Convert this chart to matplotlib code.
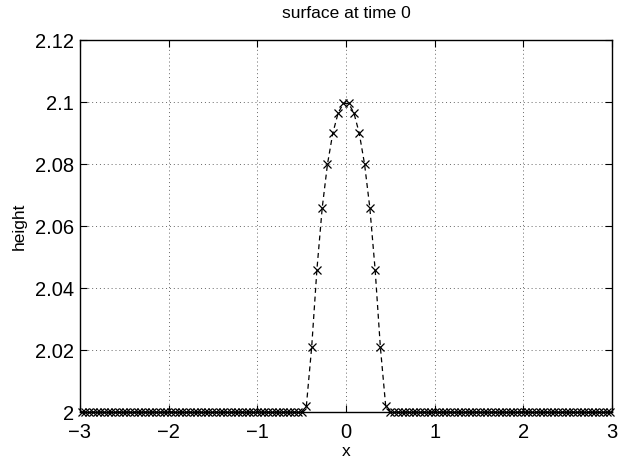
import numpy as np
import matplotlib
matplotlib.use("Agg")
import matplotlib.pyplot as plt
from matplotlib.ticker import FuncFormatter

# Positions: dense flat parts on both sides, coarser bump
flat_left_x = np.linspace(-2.98, -0.50, 60)
bump_x = [-0.447, -0.387, -0.328, -0.268, -0.209, -0.149, -0.089, -0.030,
          0.030, 0.089, 0.149, 0.209, 0.268, 0.328, 0.387, 0.447]
flat_right_x = np.linspace(0.50, 2.98, 60)

# Heights
flat_left_y = [2.0] * 60
bump_y = [2.002, 2.021, 2.046, 2.066, 2.080, 2.090, 2.0965, 2.0996,
          2.0996, 2.0965, 2.090, 2.080, 2.066, 2.046, 2.021, 2.002]
flat_right_y = [2.0] * 60

xticks = [-3, -2, -1, 0, 1, 2, 3]
yticks = [2.0, 2.02, 2.04, 2.06, 2.08, 2.1, 2.12]

xs = np.concatenate([flat_left_x, bump_x, flat_right_x])
ys = np.concatenate([flat_left_y, bump_y, flat_right_y])

plt.rcParams['font.family'] = ['Liberation Sans', 'DejaVu Sans']

fig = plt.figure(figsize=(6.19, 4.62), dpi=100)
ax = fig.add_axes([0.129, 0.108, 0.860, 0.805])

ax.plot(xs, ys, linestyle='--', color='black', linewidth=0.9,
        marker='x', markersize=6, markeredgewidth=0.9, dashes=(4, 3),
        clip_on=False, zorder=3)

ax.set_xlim(-3, 3)
ax.set_ylim(2.0, 2.12)
ax.set_xticks(xticks)
ax.set_yticks(yticks)
ax.yaxis.set_major_formatter(FuncFormatter(lambda v, p: f"{v:g}"))
ax.xaxis.set_major_formatter(FuncFormatter(lambda v, p: f"{v:g}".replace('-', '\u2212')))

ax.grid(True, linestyle=(0, (1, 3)), color='#666666', linewidth=0.7)
ax.tick_params(direction='in', top=True, right=True, labelsize=14.5, length=5,
               width=0.8)
ax.tick_params(axis='x', pad=8)
ax.tick_params(axis='y', pad=4)
for s in ax.spines.values():
    s.set_linewidth(1.0)

ax.set_title('surface at time 0', fontsize=12.5, pad=16)
ax.set_xlabel('x', fontsize=12.5, labelpad=1)
ax.set_ylabel('height', fontsize=12.5, labelpad=6)

fig.savefig('out.png', dpi=100)
